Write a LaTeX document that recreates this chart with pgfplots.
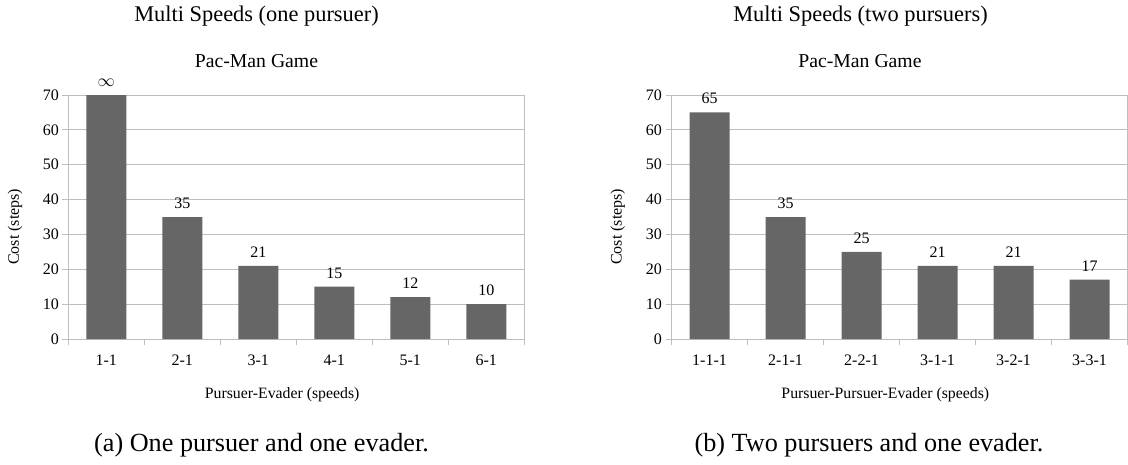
\documentclass[border=0pt]{standalone}
\usepackage{fontspec}
\setmainfont{Liberation Serif}
\usepackage{pgfplots}
\pgfplotsset{compat=1.18}
\definecolor{barc}{HTML}{666666}
\definecolor{gridc}{HTML}{BEBEBE}
\begin{document}
\begin{tikzpicture}[x=1pt,y=1pt]
\path[use as bounding box] (0pt,0pt) rectangle (1128pt,464pt);
\pgfplotsset{
  myax/.style={
    scale only axis, height=244pt, width=456pt,
    anchor=south west,
    xmin=-0.5, xmax=5.5, ymin=0, ymax=70,
    ytick={0,10,...,70},
    xtick={0,...,5},
    minor xtick={-0.5,0.5,...,5.5},
    tick pos=left,
    ymajorgrids,
    grid style={gridc, line width=0.9pt},
    axis line style={gridc, line width=0.9pt},
    tick style={gridc, line width=0.9pt},
    tick align=outside, major tick length=6pt, minor tick length=6pt,
    every major x tick/.append style={draw=none},
    ybar, bar width=40pt,
    /pgf/number format/assume math mode=true,
    ticklabel style={font=\fontsize{16}{18}\selectfont, text=black},
    xticklabel style={yshift=-6pt},
    nodes near coords, point meta=explicit symbolic,
    every node near coord/.append style={font=\fontsize{16}{18}\selectfont, text=black, anchor=south, yshift=5pt},
    xlabel style={anchor=center, font=\fontsize{15.8}{17}\selectfont},
    ylabel style={anchor=center, rotate=0, font=\fontsize{16}{18}\selectfont},
  }
}
\begin{axis}[myax, at={(68.3pt,125pt)},
  xticklabels={1-1,2-1,3-1,4-1,5-1,6-1},
  xlabel={Pursuer-Evader (speeds)},
  ylabel={Cost (steps)},
  xlabel style={at={(axis description cs:0.469,-0.23)}},
  ylabel style={at={(axis description cs:-0.117,0.46)}},
]
\addplot[fill=barc, draw=none] coordinates {(0,70)[{\fontsize{19}{20}\selectfont$\infty$}] (1,35)[35] (2,21)[21] (3,15)[15] (4,12)[12] (5,10)[10]};
\end{axis}
\begin{axis}[myax, at={(671.5pt,125pt)},
  xticklabels={1-1-1,2-1-1,2-2-1,3-1-1,3-2-1,3-3-1},
  xlabel={Pursuer-Pursuer-Evader (speeds)},
  ylabel={Cost (steps)},
  xlabel style={at={(axis description cs:0.469,-0.23)}},
  ylabel style={at={(axis description cs:-0.118,0.46)}},
]
\addplot[fill=barc, draw=none] coordinates {(0,65)[65] (1,35)[35] (2,25)[25] (3,21)[21] (4,21)[21] (5,17)[17]};
\end{axis}
\node[font=\fontsize{22.4}{26}\selectfont] at (256.5pt,448pt) {Multi Speeds (one pursuer)};
\node[font=\fontsize{19.7}{23}\selectfont] at (256.5pt,403pt) {Pac-Man Game};
\node[font=\fontsize{22.4}{26}\selectfont] at (860.5pt,448pt) {Multi Speeds (two pursuers)};
\node[font=\fontsize{19.7}{23}\selectfont] at (860pt,403pt) {Pac-Man Game};
\node[font=\fontsize{26.2}{30}\selectfont] at (261.5pt,19pt) {(a) One pursuer and one evader.};
\node[font=\fontsize{26.2}{30}\selectfont] at (869pt,19pt) {(b) Two pursuers and one evader.};
\end{tikzpicture}
\end{document}
